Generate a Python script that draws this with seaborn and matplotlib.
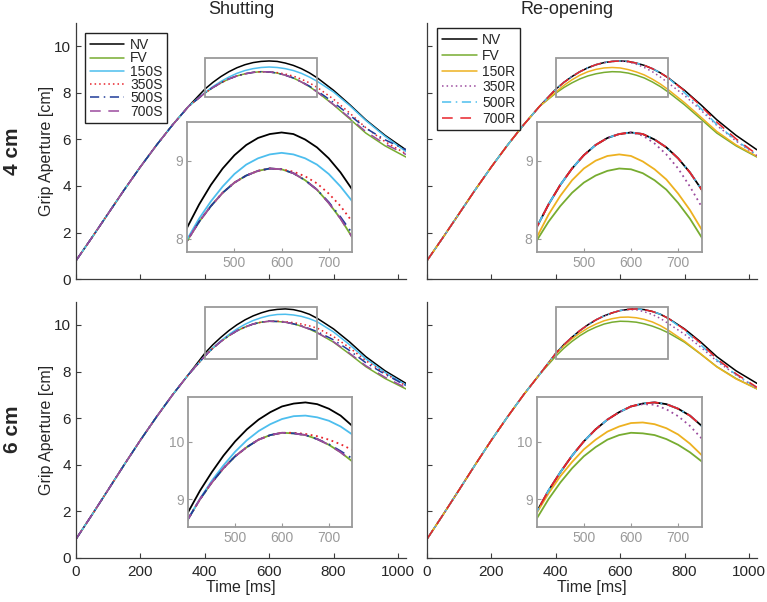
import numpy as np
import pandas as pd
import seaborn as sns
import matplotlib
matplotlib.use("Agg")
import matplotlib.pyplot as plt
from matplotlib.patches import Rectangle

# time axis (ms): coarse early rise, finer around the peak, coarse tail
time_rise = [0, 50, 100, 150, 200, 250, 300, 350]
time_main = [400, 425, 450, 475, 500, 525, 550, 575, 600, 625, 650, 675, 700, 725,
             750, 800, 850, 900, 960, 1025]

# 4 cm object: early rise is common to all conditions
rise_4cm = [0.80, 1.80, 2.82, 3.84, 4.82, 5.75, 6.62, 7.42]
nv_4cm = [8.15, 8.44, 8.69, 8.90, 9.07, 9.20, 9.29, 9.34, 9.36, 9.34, 9.27, 9.17, 9.03, 8.85, 8.63, 8.10, 7.49, 6.84, 6.17, 5.55]
fv_4cm = [7.98, 8.22, 8.42, 8.59, 8.72, 8.81, 8.87, 8.90, 8.89, 8.84, 8.75, 8.63, 8.46, 8.26, 8.02, 7.48, 6.88, 6.27, 5.72, 5.24]
s150_4cm = [8.00, 8.26, 8.48, 8.67, 8.83, 8.95, 9.03, 9.08, 9.10, 9.08, 9.03, 8.95, 8.83, 8.67, 8.48, 8.03, 7.45, 6.81, 6.13, 5.47]
s350_4cm = [7.98, 8.22, 8.42, 8.59, 8.72, 8.81, 8.87, 8.90, 8.89, 8.86, 8.80, 8.71, 8.58, 8.42, 8.22, 7.72, 7.13, 6.50, 5.90, 5.38]
s500_4cm = [7.98, 8.22, 8.42, 8.59, 8.72, 8.81, 8.87, 8.90, 8.89, 8.84, 8.75, 8.63, 8.47, 8.28, 8.07, 7.58, 7.04, 6.48, 5.98, 5.55]
s700_4cm = [7.98, 8.22, 8.42, 8.59, 8.72, 8.81, 8.87, 8.90, 8.89, 8.84, 8.75, 8.63, 8.46, 8.26, 8.02, 7.49, 6.92, 6.33, 5.80, 5.35]
r150_4cm = [8.02, 8.31, 8.55, 8.75, 8.90, 9.00, 9.06, 9.08, 9.06, 8.99, 8.89, 8.76, 8.58, 8.37, 8.12, 7.57, 6.96, 6.34, 5.76, 5.27]
r350_4cm = [8.15, 8.44, 8.69, 8.90, 9.07, 9.20, 9.29, 9.34, 9.36, 9.32, 9.22, 9.08, 8.90, 8.67, 8.41, 7.88, 7.26, 6.60, 5.93, 5.30]
r500_4cm = [8.15, 8.44, 8.69, 8.90, 9.07, 9.20, 9.29, 9.34, 9.36, 9.34, 9.27, 9.17, 9.03, 8.85, 8.63, 8.00, 7.33, 6.64, 5.96, 5.33]
r700_4cm = [8.15, 8.44, 8.69, 8.90, 9.07, 9.20, 9.29, 9.34, 9.36, 9.34, 9.27, 9.17, 9.03, 8.85, 8.63, 8.08, 7.44, 6.74, 6.02, 5.35]

# 6 cm object
rise_6cm = [0.80, 1.85, 2.92, 4.00, 5.05, 6.05, 7.00, 7.88]
nv_6cm = [8.78, 9.15, 9.47, 9.76, 10.01, 10.22, 10.39, 10.52, 10.62, 10.67, 10.69, 10.66, 10.58, 10.46, 10.28, 9.83, 9.27, 8.64, 8.03, 7.49]
fv_6cm = [8.66, 9.00, 9.29, 9.54, 9.75, 9.91, 10.04, 10.12, 10.16, 10.15, 10.12, 10.05, 9.95, 9.82, 9.66, 9.26, 8.75, 8.21, 7.70, 7.25]
s150_6cm = [8.66, 9.01, 9.32, 9.59, 9.83, 10.03, 10.19, 10.31, 10.40, 10.45, 10.46, 10.43, 10.37, 10.27, 10.13, 9.70, 9.15, 8.55, 7.96, 7.42]
s350_6cm = [8.66, 9.00, 9.29, 9.54, 9.75, 9.91, 10.04, 10.12, 10.16, 10.16, 10.14, 10.10, 10.04, 9.96, 9.86, 9.50, 9.02, 8.47, 7.92, 7.38]
s500_6cm = [8.66, 9.00, 9.29, 9.54, 9.75, 9.91, 10.04, 10.12, 10.16, 10.15, 10.12, 10.05, 9.96, 9.84, 9.71, 9.36, 8.90, 8.38, 7.88, 7.40]
s700_6cm = [8.66, 9.00, 9.29, 9.54, 9.75, 9.91, 10.04, 10.12, 10.16, 10.15, 10.12, 10.05, 9.95, 9.82, 9.66, 9.28, 8.78, 8.25, 7.75, 7.30]
r150_6cm = [8.76, 9.10, 9.40, 9.65, 9.87, 10.04, 10.18, 10.27, 10.33, 10.34, 10.31, 10.24, 10.13, 9.97, 9.77, 9.30, 8.76, 8.20, 7.68, 7.26]
r350_6cm = [8.78, 9.15, 9.47, 9.76, 10.01, 10.22, 10.39, 10.52, 10.62, 10.66, 10.65, 10.57, 10.45, 10.28, 10.06, 9.60, 9.05, 8.45, 7.85, 7.28]
r500_6cm = [8.78, 9.15, 9.47, 9.76, 10.01, 10.22, 10.39, 10.52, 10.62, 10.67, 10.69, 10.66, 10.58, 10.46, 10.28, 9.76, 9.15, 8.50, 7.87, 7.30]
r700_6cm = [8.78, 9.15, 9.47, 9.76, 10.01, 10.22, 10.39, 10.52, 10.62, 10.67, 10.69, 10.66, 10.58, 10.46, 10.28, 9.81, 9.22, 8.55, 7.90, 7.32]

shut_labels = ["NV", "FV", "150S", "350S", "500S", "700S"]
reopen_labels = ["NV", "FV", "150R", "350R", "500R", "700R"]
col_titles = ["Shutting", "Re-opening"]
row_titles = ["4 cm", "6 cm"]

# inset zoom windows per row
zoom_x = (400, 750)
zoom_y = [(7.83, 9.49), (8.52, 10.79)]
zoom_yticks = [[8, 9], [9, 10]]

GREEN = "#77AC30"
CYAN = "#4DBEEE"
ORANGE = "#EDB120"
PURPLE = "#9B4A9E"
RED = "#E8232B"
NAVY = "#1F3C99"
DOT = (0, (1, 2))
DASHDOT = (0, (6, 3, 1, 3))
DASH = (0, (7, 5))
shut_styles = [("black", "-"), (GREEN, "-"), (CYAN, "-"), (RED, DOT), (NAVY, DASHDOT), (PURPLE, DASH)]
reopen_styles = [("black", "-"), (GREEN, "-"), (ORANGE, "-"), (PURPLE, DOT), (CYAN, DASHDOT), (RED, DASH)]

panels = [
    [(rise_4cm, [nv_4cm, fv_4cm, s150_4cm, s350_4cm, s500_4cm, s700_4cm], shut_labels, shut_styles),
     (rise_4cm, [nv_4cm, fv_4cm, r150_4cm, r350_4cm, r500_4cm, r700_4cm], reopen_labels, reopen_styles)],
    [(rise_6cm, [nv_6cm, fv_6cm, s150_6cm, s350_6cm, s500_6cm, s700_6cm], shut_labels, shut_styles),
     (rise_6cm, [nv_6cm, fv_6cm, r150_6cm, r350_6cm, r500_6cm, r700_6cm], reopen_labels, reopen_styles)],
]

sns.set_style("ticks")
plt.rcParams["font.family"] = ["Liberation Sans", "DejaVu Sans"]
AX_COL = "#3c3c3c"
TXT_COL = "#262626"
GREY = "#9a9a9a"

W, H = 767, 602
fig = plt.figure(figsize=(W / 100, H / 100), dpi=100)


def px_rect(x0, y0, x1, y1):
    return [x0 / W, 1 - y1 / H, (x1 - x0) / W, (y1 - y0) / H]


main_px = [[(76, 22.7, 406, 279.3), (427, 22.7, 757, 279.3)],
           [(76, 301.7, 406, 557.7), (427, 301.7, 757, 557.7)]]
inset_px = [[(187.3, 122.3, 352.3, 252.3), (536.7, 122.3, 701.7, 252.3)],
            [(188.3, 396.7, 352.3, 526.7), (536.7, 396.7, 701.7, 526.7)]]
legend_anchor = [(0.027, 0.959), (0.031, 0.978)]
legend_spacing = [-0.05, 0.12]
title_x = [0.5, 0.424]

for r in range(2):
    for c in range(2):
        rise, mains, labels, styles = panels[r][c]
        ax = fig.add_axes(px_rect(*main_px[r][c]))
        axin = fig.add_axes(px_rect(*inset_px[r][c]))
        for lab, vals, (col, ls) in zip(labels, mains, styles):
            df = pd.DataFrame({"time": time_rise + time_main, "aperture": rise + vals})
            sns.lineplot(data=df, x="time", y="aperture", color=col, linestyle=ls,
                         linewidth=1.1, label=lab, ax=ax)
            sns.lineplot(data=df, x="time", y="aperture", color=col, linestyle=ls,
                         linewidth=1.3, ax=axin)

        # main axes
        ax.set_xlim(0, 1025)
        ax.set_ylim(0, 11)
        ax.set_xticks(np.arange(0, 1001, 200))
        ax.set_yticks(np.arange(0, 11, 2))
        ax.tick_params(direction="in", length=3.5, width=0.8, colors=AX_COL,
                       labelcolor=TXT_COL, labelsize=11)
        ax.tick_params(axis="x", pad=5)
        for s in ["left", "bottom"]:
            ax.spines[s].set_color(AX_COL)
            ax.spines[s].set_linewidth(0.9)
        sns.despine(ax=ax)
        ax.set_xlabel("Time [ms]" if r == 1 else "", fontsize=11.5, color=TXT_COL, labelpad=1)
        ax.set_ylabel("Grip Aperture [cm]" if c == 0 else "", fontsize=11.5, color=TXT_COL, labelpad=0)
        if r == 0:
            ax.tick_params(labelbottom=False)
            ax.set_title(col_titles[c], fontsize=13, color=TXT_COL, pad=6, x=title_x[c])
        if c == 1:
            ax.tick_params(labelleft=False)
        ax.add_patch(Rectangle((zoom_x[0], zoom_y[r][0]), zoom_x[1] - zoom_x[0],
                               zoom_y[r][1] - zoom_y[r][0], fill=False,
                               edgecolor=GREY, linewidth=1.3, zorder=5))

        if r == 0:
            leg = ax.legend(loc="upper left", bbox_to_anchor=legend_anchor[c], borderaxespad=0,
                            fontsize=10, handlelength=2.5, handletextpad=0.4,
                            labelspacing=legend_spacing[c], borderpad=0.35,
                            fancybox=False, framealpha=1)
            leg.get_frame().set_edgecolor("#222222")
            leg.get_frame().set_linewidth(1.0)
        else:
            ax.get_legend().remove()

        # inset axes
        axin.set_xlim(*zoom_x)
        axin.set_ylim(*zoom_y[r])
        axin.set_xticks([500, 600, 700])
        axin.set_yticks(zoom_yticks[r])
        axin.set_xlabel("")
        axin.set_ylabel("")
        axin.tick_params(direction="in", length=3, width=0.8, colors=GREY,
                         labelcolor=GREY, labelsize=10, pad=3)
        for s in axin.spines.values():
            s.set_visible(True)
            s.set_color(GREY)
            s.set_linewidth(1.3)

for r in range(2):
    y0, y1 = main_px[r][0][1], main_px[r][0][3]
    fig.text(13 / W, 1 - (y0 + y1) / 2 / H, row_titles[r], rotation=90, fontsize=15,
             fontweight="bold", color=TXT_COL, ha="center", va="center")

fig.savefig("out.png", dpi=100)
